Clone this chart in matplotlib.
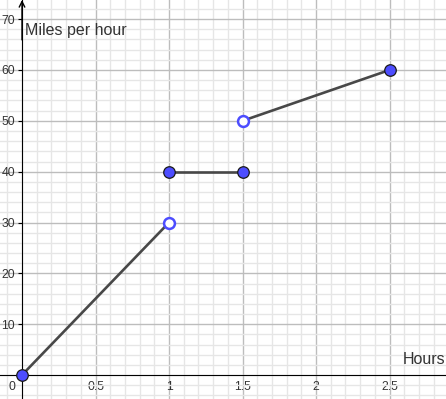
import matplotlib.pyplot as plt
from matplotlib.ticker import MultipleLocator

# piecewise speed graph
seg_x = [[0, 1], [1, 1.5], [1.5, 2.5]]
seg_y = [[0, 30], [40, 40], [50, 60]]
closed_x = [0, 1, 1.5, 2.5]
closed_y = [0, 40, 40, 60]
open_x = [1, 1.5]
open_y = [30, 50]

x_ticks = [0.5, 1, 1.5, 2, 2.5]
y_ticks = [10, 20, 30, 40, 50, 60, 70]

plt.rcParams['font.family'] = ['Liberation Sans', 'DejaVu Sans']

fig = plt.figure(figsize=(4.46, 3.99), dpi=100)
ax = fig.add_axes([0, 0, 1, 1])
ax.set_xlim(-0.1497, 2.884)
ax.set_ylim(-4.72, 73.77)

# grid
ax.xaxis.set_major_locator(MultipleLocator(0.5))
ax.xaxis.set_minor_locator(MultipleLocator(0.1))
ax.yaxis.set_major_locator(MultipleLocator(10))
ax.yaxis.set_minor_locator(MultipleLocator(2))
ax.grid(which='major', color='#bdbdbd', lw=1)
ax.grid(which='minor', color='#e6e6e6', lw=1)
ax.set_axisbelow(True)

for s in ['top', 'right']:
    ax.spines[s].set_visible(False)
ax.spines['left'].set_position(('data', 0))
ax.spines['bottom'].set_position(('data', 0))
ax.spines['left'].set_color('black')
ax.spines['bottom'].set_color('black')

ax.set_xticks(x_ticks)
ax.set_xticklabels([str(t) for t in x_ticks])
ax.set_yticks(y_ticks)
ax.set_yticklabels([str(t) for t in y_ticks])
ax.tick_params(axis='x', which='both', length=0, pad=4, labelsize=8.8, colors='#333333')
ax.tick_params(axis='y', which='major', length=3, pad=2, labelsize=8.8, colors='#333333')
ax.tick_params(axis='y', which='minor', length=0)
ax.tick_params(axis='y', which='major', color='black')
ax.text(-0.045, -1.1, '0', ha='right', va='top', fontsize=8.8, color='#333333')

# arrow on top of y axis
ax.annotate('', xy=(0, 1), xycoords=('data', 'axes fraction'),
            xytext=(0, 0.9), textcoords=('data', 'axes fraction'),
            arrowprops=dict(arrowstyle='->', color='black', lw=1, shrinkA=0, shrinkB=0))

ax.text(0.02, 67.8, 'Miles per hour', fontsize=11.5, color='#333333', ha='left', va='center')
ax.text(2.59, 3.0, 'Hours', fontsize=11.5, color='#333333', ha='left', va='center')

for xs, ys in zip(seg_x, seg_y):
    ax.plot(xs, ys, color='#484848', lw=1.9, solid_capstyle='butt', zorder=3)

ax.plot(closed_x, closed_y, 'o', ms=8.3, mfc='#4d4dff', mec='#1a1a1a', mew=0.9, zorder=5, clip_on=False)
ax.plot(open_x, open_y, 'o', ms=7.8, mfc='white', mec='#4d4dff', mew=1.8, zorder=5)

fig.savefig('out.png', dpi=100)
